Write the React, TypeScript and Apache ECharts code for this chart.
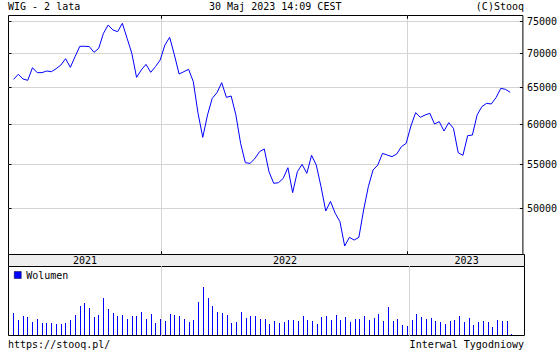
import React, { useEffect, useRef } from "react";
import * as echarts from "echarts";

// ---- data ----
const FIRST_WEEK = "2021-05-28"; // first weekly point (Friday), one point per week
const prices = [
  66170, 66900, 66220, 66030, 67870, 67140, 67140, 67380, 67280, 67720,
  68260, 69210, 67920, 69510, 71090, 71100, 71060, 70170, 70780, 73130,
  74460, 73660, 73390, 74740, 72340, 70020, 66460, 67530, 68360, 67190,
  68020, 69010, 71300, 72500, 69770, 66940, 67280, 67630, 65840, 61460,
  58340, 61240, 63500, 64280, 65690, 63630, 63820, 61240, 57580, 55210,
  55130, 55690, 56550, 56880, 54140, 52790, 52860, 53360, 54610, 51730,
  54140, 55010, 53950, 56100, 54930, 52400, 49710, 50760, 49460, 48570,
  46070, 46940, 46670, 46940, 49810, 52400, 54340, 54930, 56340, 56140,
  55940, 56260, 57170, 57580, 59790, 61550, 60930, 61240, 61460, 60050,
  60360, 59140, 60230, 59490, 56420, 56100, 58550, 58630, 61240, 62360,
  62810, 62720, 63590, 64890, 64750, 64330,
];
// weekly volume (relative units)
const volumes = [
  23, 16, 20, 19, 14, 17, 13, 13, 13, 12, 12, 13, 16, 21, 30, 33, 28, 19, 21, 38,
  27, 23, 20, 21, 17, 20, 20, 24, 17, 22, 13, 17, 15, 22, 21,
  20, 17, 14, 16, 34, 49, 38, 30, 24, 23, 21, 13, 14, 24, 18, 20, 20, 17, 17, 12,
  15, 13, 14, 16, 16, 15, 20, 16, 15, 12, 19, 20, 16, 21, 16, 19, 14, 17,
  17, 20, 16, 18, 22, 15, 29, 15, 17, 11, 10, 16, 22, 19, 17, 18, 15, 14, 12, 15,
  16, 20, 14, 18, 11, 14, 15, 14, 9, 16, 15, 15, 2,
];
const priceTicks = [50000, 55000, 60000, 65000, 70000, 75000];
const years = ["2021", "2022", "2023"];
const AXIS_START = "2021-05-20T12:00:00Z";
const AXIS_END = "2023-06-20T18:00:00Z";
const PRICE_MIN = 45226;
const PRICE_MAX = 76017;
const VOLUME_MAX = 69;

const TITLE = "WIG - 2 lata";
const DATE_TEXT = "30 Maj 2023 14:09 CEST";
const COPYRIGHT = "(C)Stooq";
const URL_TEXT = "https://stooq.pl/";
const INTERVAL_TEXT = "Interwal Tygodniowy";
const VOLUME_NAME = "Wolumen";

const FONT = '"DejaVu Sans Mono", monospace';
const BLUE = "#0000ff";
const GRID_GRAY = "#d4d4d4";

function buildOption() {
  const WEEK = 7 * 24 * 3600 * 1000;
  const t0 = Date.parse(FIRST_WEEK + "T00:00:00Z");
  const weekTimes = prices.map((_, i) => t0 + i * WEEK);
  const xMin = Date.parse(AXIS_START);
  const xMax = Date.parse(AXIS_END);
  const yearStarts = years.slice(1).map((y) => Date.UTC(+y, 0, 1));
  const yearRanges = years.map((y) => [Date.UTC(+y, 0, 1), Date.UTC(+y + 1, 0, 1)]);
  const logTicks = priceTicks.map((v) => Math.log(v));

  const ts = {
    fontFamily: FONT,
    fontSize: 10,
    fontWeight: "normal" as const,
    color: "#000",
  };

  const left = 8.5;
  const width = 516;

  return {
    animation: false,
    backgroundColor: "#fff",
    textStyle: { fontFamily: FONT },
    title: [
      { text: TITLE, left: 8, top: 1, padding: 0, textStyle: ts },
      { text: DATE_TEXT, left: 209, top: 1, padding: 0, textStyle: ts },
      { text: COPYRIGHT, right: 36, top: 1, padding: 0, textStyle: ts },
      { text: URL_TEXT, left: 8, top: 339, padding: 0, textStyle: ts },
      { text: INTERVAL_TEXT, right: 36, top: 339, padding: 0, textStyle: ts },
    ],
    legend: {
      data: [VOLUME_NAME],
      left: 14,
      top: 270,
      padding: 0,
      icon: "rect",
      itemWidth: 7,
      itemHeight: 7,
      selectedMode: false,
      itemStyle: { color: BLUE, borderColor: "#000033", borderWidth: 0.5 },
      textStyle: ts,
    },
    grid: [
      { left, top: 15.5, width, height: 239, show: true, borderColor: "#000", borderWidth: 1, backgroundColor: "#fff" },
      { left, top: 254.5, width, height: 12, show: true, borderColor: "#000", borderWidth: 1, backgroundColor: "#eeeeee" },
      { left, top: 266.5, width, height: 69, show: true, borderColor: "#000", borderWidth: 1, backgroundColor: "#fff" },
    ],
    xAxis: [
      {
        type: "time", gridIndex: 0, min: xMin, max: xMax, position: "bottom",
        axisLine: { show: false }, axisLabel: { show: false },
        axisTick: { show: true, inside: true, length: 3, customValues: yearStarts, lineStyle: { color: "#000" } },
        splitLine: { show: true, lineStyle: { color: GRID_GRAY, width: 1 } },
      },
      {
        type: "time", gridIndex: 0, min: xMin, max: xMax, position: "top",
        axisLine: { show: false }, axisLabel: { show: false },
        axisTick: { show: true, inside: true, length: 3, customValues: yearStarts, lineStyle: { color: "#000" } },
        splitLine: { show: false },
      },
      { type: "time", gridIndex: 1, min: xMin, max: xMax, show: false },
      {
        type: "time", gridIndex: 2, min: xMin, max: xMax,
        axisLine: { show: false }, axisLabel: { show: false },
        axisTick: { show: false, customValues: yearStarts },
        splitLine: { show: true, lineStyle: { color: GRID_GRAY, width: 1 } },
      },
    ],
    yAxis: [
      {
        type: "value", gridIndex: 0, position: "right",
        min: Math.log(PRICE_MIN), max: Math.log(PRICE_MAX),
        axisLine: { show: false },
        axisTick: { show: true, inside: true, length: 3, customValues: logTicks, lineStyle: { color: "#000" } },
        axisLabel: {
          show: true, customValues: logTicks, margin: 4,
          formatter: (v: number) => String(Math.round(Math.exp(v))),
          ...ts,
        },
        splitLine: { show: true, lineStyle: { color: GRID_GRAY, width: 1 } },
      },
      {
        type: "value", gridIndex: 0, position: "left",
        min: Math.log(PRICE_MIN), max: Math.log(PRICE_MAX),
        axisLine: { show: false },
        axisTick: { show: true, inside: true, length: 3, customValues: logTicks, lineStyle: { color: "#000" } },
        axisLabel: { show: false },
        splitLine: { show: false },
      },
      { type: "value", gridIndex: 1, min: 0, max: 1, show: false },
      { type: "value", gridIndex: 2, min: 0, max: VOLUME_MAX, show: false },
    ],
    series: [
      {
        type: "line", name: "WIG", xAxisIndex: 0, yAxisIndex: 0,
        data: weekTimes.map((t, i) => [t, Math.log(prices[i])]),
        symbol: "none", showSymbol: false, silent: true,
        lineStyle: { color: BLUE, width: 1 }, itemStyle: { color: BLUE },
      },
      {
        type: "custom", name: "years", xAxisIndex: 2, yAxisIndex: 2,
        data: yearRanges, encode: { x: [0, 1] }, silent: true,
        renderItem: (params: any, api: any) => {
          const cs = params.coordSys;
          const a = api.coord([api.value(0), 0])[0];
          const b = api.coord([api.value(1), 0])[0];
          const x0 = Math.max(a, cs.x);
          const x1 = Math.min(b, cs.x + cs.width);
          if (x1 <= x0) return null;
          return {
            type: "text",
            x: (x0 + x1) / 2,
            y: cs.y + cs.height / 2,
            style: {
              text: years[params.dataIndex],
              align: "center",
              verticalAlign: "middle",
              fill: "#000",
              font: "10px " + FONT,
            },
          };
        },
      },
      {
        // volume bars, 1px wide and snapped to whole pixels for crisp lines
        type: "custom", name: VOLUME_NAME, xAxisIndex: 3, yAxisIndex: 3,
        data: weekTimes.map((t, i) => [t, volumes[i]]),
        encode: { x: 0, y: 1 }, silent: true,
        itemStyle: { color: BLUE },
        renderItem: (params: any, api: any) => {
          const top = api.coord([api.value(0), api.value(1)]);
          const base = api.coord([api.value(0), 0]);
          const x = Math.floor(top[0]);
          const y = Math.round(top[1]);
          const yb = Math.floor(base[1]);
          return {
            type: "rect",
            shape: { x, y, width: 1, height: Math.max(0, yb - y) },
            style: { fill: BLUE },
          };
        },
      },
    ],
  };
}

export default function App() {
  const ref = useRef<HTMLDivElement>(null);
  useEffect(() => {
    if (!ref.current) return;
    const chart = echarts.init(ref.current, null, { renderer: "svg" });
    chart.setOption(buildOption() as any);
    return () => chart.dispose();
  }, []);
  return (
    <div
      ref={ref}
      style={{ position: "fixed", left: 0, top: 0, width: 560, height: 350, background: "#fff" }}
    />
  );
}
